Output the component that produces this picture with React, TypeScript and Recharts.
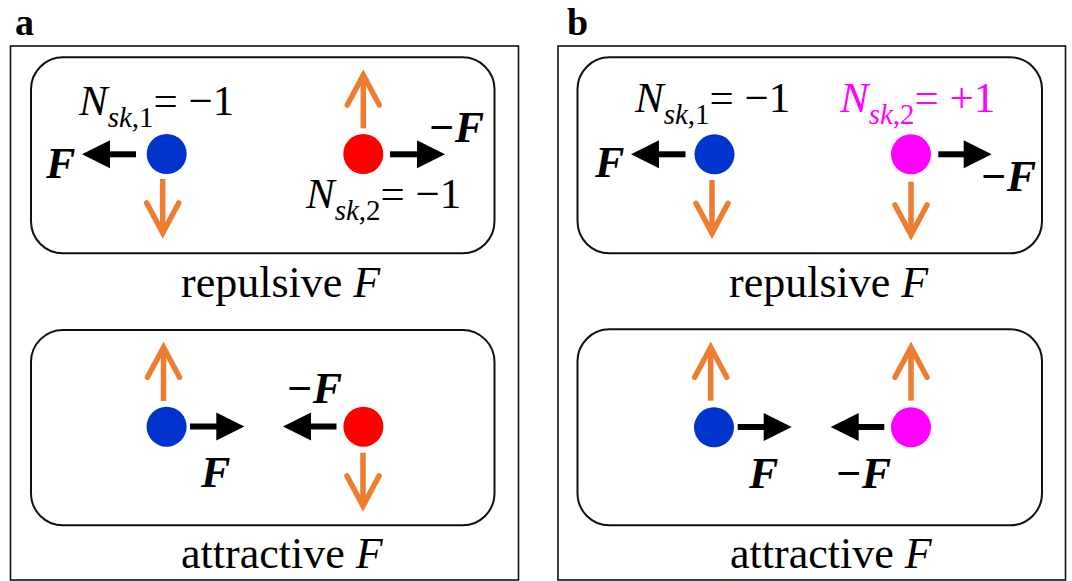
import React from 'react';
import { ScatterChart, Scatter, XAxis, YAxis, ReferenceArea, ReferenceLine } from 'recharts';

const W = 1072;
const H = 581;
const FONT_STYLE = { fontFamily: "'Liberation Serif', 'Times New Roman', Times, 'DejaVu Serif', serif" };

// Panel frames (outer) and rounded boxes (inner), in figure units
const frames = [
  { x1: 10.5, x2: 518.5, y1: 46, y2: 580 },
  { x1: 558, x2: 1065.5, y1: 46, y2: 580 },
];
const boxes = [
  { x1: 31, x2: 494.5, y1: 57.3, y2: 253.3 },
  { x1: 31, x2: 494.5, y1: 330, y2: 525.3 },
  { x1: 577.5, x2: 1042, y1: 57.3, y2: 253.3 },
  { x1: 577.5, x2: 1042, y1: 329.3, y2: 525.3 },
];

// Skyrmions (dots)
const skyrmions = [
  { x: 166.7, y: 154, color: '#0033CC' },
  { x: 363.3, y: 154, color: '#FF0000' },
  { x: 166.6, y: 426.7, color: '#0033CC' },
  { x: 363.4, y: 426.7, color: '#FF0000' },
  { x: 714.5, y: 154.3, color: '#0033CC' },
  { x: 911, y: 154.3, color: '#FF00FF' },
  { x: 714, y: 427.3, color: '#0033CC' },
  { x: 911, y: 427.3, color: '#FF00FF' },
];

// Force arrows (black): tail -> tip
const forceArrows = [
  { x1: 136, y1: 154.3, x2: 82, y2: 154.3 },
  { x1: 390, y1: 154.3, x2: 445, y2: 154.3 },
  { x1: 190, y1: 426.5, x2: 244.3, y2: 426.5 },
  { x1: 336.5, y1: 426.5, x2: 283, y2: 426.5 },
  { x1: 685.5, y1: 154.3, x2: 631, y2: 154.3 },
  { x1: 938.3, y1: 154.3, x2: 991.7, y2: 154.3 },
  { x1: 737.7, y1: 427, x2: 791.7, y2: 427 },
  { x1: 884.3, y1: 427, x2: 830.7, y2: 427 },
];

// Gyrotropic (orange) arrows: tail -> tip
const motionArrows = [
  { x1: 162.7, y1: 179, x2: 162.7, y2: 233 },
  { x1: 363.3, y1: 128.3, x2: 363.3, y2: 75 },
  { x1: 163.5, y1: 401, x2: 163.5, y2: 347.3 },
  { x1: 363, y1: 452.7, x2: 363, y2: 506 },
  { x1: 712, y1: 180, x2: 712, y2: 233.3 },
  { x1: 911, y1: 181.7, x2: 911, y2: 235 },
  { x1: 710.7, y1: 400.7, x2: 710.7, y2: 347.3 },
  { x1: 911, y1: 400.7, x2: 911, y2: 347.3 },
];

// Text labels
const panelLetters = [
  { x: 15, y: 34.5, text: 'a' },
  { x: 567, y: 34.5, text: 'b' },
];
const chargeLabels = [
  { x: 79, y: 115, idx: '1', value: '−1', color: '#000000' },
  { x: 306, y: 208, idx: '2', value: '−1', color: '#000000' },
  { x: 635, y: 112, idx: '1', value: '−1', color: '#000000' },
  { x: 840, y: 112, idx: '2', value: '+1', color: '#FF00FF' },
];
const forceLabels = [
  { x: 46, y: 178, text: 'F' },
  { x: 428, y: 141.7, text: '−F' },
  { x: 201, y: 487.3, text: 'F' },
  { x: 286, y: 403.3, text: '−F' },
  { x: 595, y: 177, text: 'F' },
  { x: 980, y: 190.7, text: '−F' },
  { x: 749, y: 488.3, text: 'F' },
  { x: 835, y: 488.3, text: '−F' },
];
const captions = [
  { x: 181, y: 297, word: 'repulsive' },
  { x: 181, y: 568, word: 'attractive' },
  { x: 729, y: 297, word: 'repulsive' },
  { x: 730, y: 568, word: 'attractive' },
];

const frameShape = (p: any) => (
  <rect x={p.x} y={p.y} width={p.width} height={p.height} fill="none" stroke="#111" strokeWidth={1.6} />
);
const boxShape = (p: any) => (
  <rect x={p.x} y={p.y} width={p.width} height={p.height} rx={32} ry={32} fill="none" stroke="#111" strokeWidth={2} />
);

const blackArrow = (p: any) => {
  const x1 = Number(p.x1), y1 = Number(p.y1), x2 = Number(p.x2), y2 = Number(p.y2);
  const dx = x2 - x1, dy = y2 - y1;
  const len = Math.hypot(dx, dy) || 1;
  const ux = dx / len, uy = dy / len;
  const px = -uy, py = ux;
  const head = 28, half = 14;
  const bx = x2 - ux * head, by = y2 - uy * head;
  return (
    <g>
      <line x1={x1} y1={y1} x2={bx + ux * 2} y2={by + uy * 2} stroke="#000" strokeWidth={6} />
      <polygon
        points={`${x2},${y2} ${bx + px * half},${by + py * half} ${bx - px * half},${by - py * half}`}
        fill="#000"
      />
    </g>
  );
};

const orangeArrow = (p: any) => {
  const x1 = Number(p.x1), y1 = Number(p.y1), x2 = Number(p.x2), y2 = Number(p.y2);
  const dx = x2 - x1, dy = y2 - y1;
  const len = Math.hypot(dx, dy) || 1;
  const ux = dx / len, uy = dy / len;
  const px = -uy, py = ux;
  const back = 30, spread = 16;
  const ax = x2 - ux * back, ay = y2 - uy * back;
  return (
    <g>
      <line x1={x1} y1={y1} x2={x2 - ux * 3} y2={y2 - uy * 3} stroke="#ED7D31" strokeWidth={5.5} />
      <path
        d={`M${ax + px * spread},${ay + py * spread} L${x2},${y2} L${ax - px * spread},${ay - py * spread}`}
        fill="none"
        stroke="#ED7D31"
        strokeWidth={5.5}
        strokeLinecap="round"
        strokeLinejoin="miter"
        strokeMiterlimit={10}
      />
    </g>
  );
};

const dotShape = (p: any) => <circle cx={p.cx} cy={p.cy} r={20} fill={p.payload.color} />;

const letterShape = (p: any) => (
  <text x={p.cx} y={p.cy} style={FONT_STYLE} fontWeight="bold" fontSize={38} fill="#000">
    {p.payload.text}
  </text>
);

const chargeShape = (p: any) => {
  const d = p.payload;
  return (
    <text x={p.cx} y={p.cy} style={FONT_STYLE} fontSize={43} fill={d.color}>
      <tspan fontStyle="italic">N</tspan>
      <tspan fontStyle="italic" fontSize={29} dy={12}>sk</tspan>
      <tspan fontSize={29}>,{d.idx}</tspan>
      <tspan dy={-12}>{'= ' + d.value}</tspan>
    </text>
  );
};

const forceShape = (p: any) => (
  <text x={p.cx} y={p.cy} style={FONT_STYLE} fontWeight="bold" fontStyle="italic" fontSize={44} fill="#000">
    {p.payload.text}
  </text>
);

const captionShape = (p: any) => (
  <text x={p.cx} y={p.cy} style={FONT_STYLE} fontSize={44} fill="#000">
    <tspan>{p.payload.word + ' '}</tspan>
    <tspan fontStyle="italic">F</tspan>
  </text>
);

export default function App() {
  return (
    <div style={{ position: 'absolute', left: 0, top: 0, width: W, height: H, background: '#fff' }}>
      <ScatterChart width={W} height={H} margin={{ top: 0, right: 0, bottom: 0, left: 0 }}>
        <XAxis type="number" dataKey="x" domain={[0, W]} hide allowDataOverflow />
        <YAxis type="number" dataKey="y" domain={[0, H]} reversed hide allowDataOverflow />
        {frames.map((f, i) => (
          <ReferenceArea key={'f' + i} x1={f.x1} x2={f.x2} y1={f.y1} y2={f.y2} shape={frameShape} ifOverflow="visible" />
        ))}
        {boxes.map((b, i) => (
          <ReferenceArea key={'b' + i} x1={b.x1} x2={b.x2} y1={b.y1} y2={b.y2} shape={boxShape} ifOverflow="visible" />
        ))}
        {forceArrows.map((a, i) => (
          <ReferenceLine
            key={'fa' + i}
            segment={[{ x: a.x1, y: a.y1 }, { x: a.x2, y: a.y2 }]}
            shape={blackArrow}
            ifOverflow="visible"
          />
        ))}
        {motionArrows.map((a, i) => (
          <ReferenceLine
            key={'ma' + i}
            segment={[{ x: a.x1, y: a.y1 }, { x: a.x2, y: a.y2 }]}
            shape={orangeArrow}
            ifOverflow="visible"
          />
        ))}
        <Scatter data={skyrmions} shape={dotShape} isAnimationActive={false} />
        <Scatter data={panelLetters} shape={letterShape} isAnimationActive={false} />
        <Scatter data={chargeLabels} shape={chargeShape} isAnimationActive={false} />
        <Scatter data={forceLabels} shape={forceShape} isAnimationActive={false} />
        <Scatter data={captions} shape={captionShape} isAnimationActive={false} />
      </ScatterChart>
    </div>
  );
}
